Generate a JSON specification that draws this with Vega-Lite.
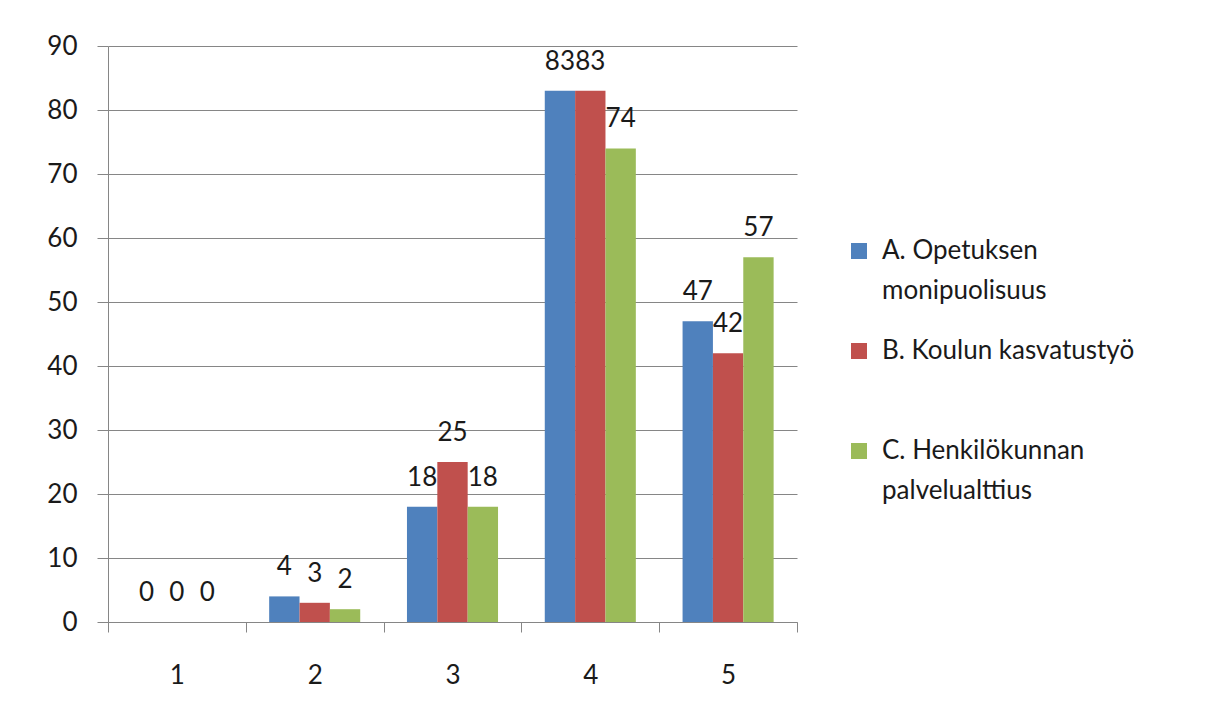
{
  "$schema": "https://vega.github.io/schema/vega-lite/v6.json",
  "autosize": {"type": "none"},
  "padding": {"left": 108, "top": 46, "right": 410, "bottom": 102},
  "width": 689,
  "height": 576,
  "background": "white",
  "data": {"values": [
    {"cat": "1", "series": "A. Opetuksen monipuolisuus", "value": 0},
    {"cat": "1", "series": "B. Koulun kasvatustyö", "value": 0},
    {"cat": "1", "series": "C. Henkilökunnan palvelualttius", "value": 0},
    {"cat": "2", "series": "A. Opetuksen monipuolisuus", "value": 4},
    {"cat": "2", "series": "B. Koulun kasvatustyö", "value": 3},
    {"cat": "2", "series": "C. Henkilökunnan palvelualttius", "value": 2},
    {"cat": "3", "series": "A. Opetuksen monipuolisuus", "value": 18},
    {"cat": "3", "series": "B. Koulun kasvatustyö", "value": 25},
    {"cat": "3", "series": "C. Henkilökunnan palvelualttius", "value": 18},
    {"cat": "4", "series": "A. Opetuksen monipuolisuus", "value": 83},
    {"cat": "4", "series": "B. Koulun kasvatustyö", "value": 83},
    {"cat": "4", "series": "C. Henkilökunnan palvelualttius", "value": 74},
    {"cat": "5", "series": "A. Opetuksen monipuolisuus", "value": 47},
    {"cat": "5", "series": "B. Koulun kasvatustyö", "value": 42},
    {"cat": "5", "series": "C. Henkilökunnan palvelualttius", "value": 57}
  ]},
  "encoding": {
    "x": {"field": "cat", "type": "nominal", "sort": null,
      "scale": {"paddingInner": 0, "paddingOuter": 0},
      "axis": {"title": null, "labelAngle": 0, "tickBand": "extent", "tickSize": 10, "labelPadding": 30,
        "domainColor": "#868686", "tickColor": "#868686", "labelFontSize": 26, "labelFont": "Lato", "labelColor": "#1a1a1a", "grid": false}},
    "xOffset": {"field": "series", "type": "nominal", "scale": {"paddingInner": 0, "paddingOuter": 0.77}},
    "y": {"field": "value", "type": "quantitative",
      "scale": {"domain": [0, 90], "nice": false},
      "axis": {"title": null, "values": [0,10,20,30,40,50,60,70,80,90], "tickSize": 11, "labelPadding": 20,
        "domainColor": "#868686", "tickColor": "#868686", "gridColor": "#868686", "gridOpacity": 1,
        "labelFontSize": 26, "labelFont": "Lato", "labelColor": "#1a1a1a"}}
  },
  "layer": [
    {
      "mark": {"type": "bar"},
      "encoding": {
        "color": {"field": "series", "type": "nominal",
          "scale": {"range": ["#4F81BD", "#C0504D", "#9BBB59"]},
          "legend": {"title": null, "orient": "none", "legendX": 738, "legendY": 192, "padding": 0,
            "symbolType": "square", "symbolSize": 256, "symbolStrokeWidth": 0,
            "labelFontSize": 26, "labelFont": "Lato", "labelColor": "#1a1a1a", "labelLimit": 400,
            "labelOffset": 10, "rowPadding": 34, "labelBaseline": "middle",
            "labelExpr": "datum.label == 'A. Opetuksen monipuolisuus' ? ['A. Opetuksen', 'monipuolisuus'] : datum.label == 'C. Henkilökunnan palvelualttius' ? ['C. Henkilökunnan', 'palvelualttius'] : [datum.label, ' ']",
            "encode": {"labels": {"update": {"lineHeight": {"value": 40}}}}}}
      }
    },
    {
      "mark": {"type": "text", "baseline": "bottom", "dy": -16, "fontSize": 26, "font": "Lato", "color": "#1a1a1a"},
      "encoding": {"text": {"field": "value", "type": "quantitative"}}
    }
  ],
  "config": {"view": {"stroke": null}}
}
